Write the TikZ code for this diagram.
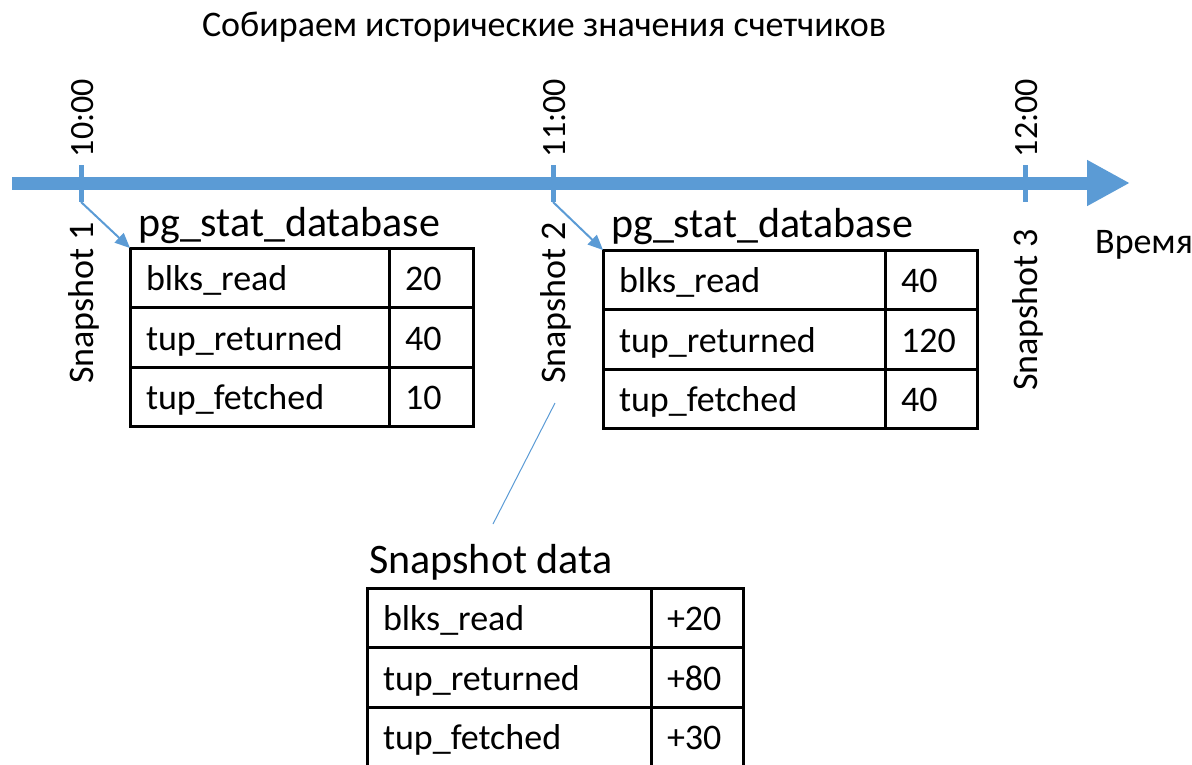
\documentclass[tikz,border=0pt]{standalone}
\usepackage{fontspec}
\setmainfont{Carlito}
\usetikzlibrary{positioning,arrows.meta}
\definecolor{axisblue}{HTML}{5B9BD5}
\newcommand{\cellfont}{\fontsize{36}{43}\selectfont}
\newcommand{\headfont}{\fontsize{42}{50}\selectfont}
\newcommand{\timefont}{\fontsize{34}{41}\selectfont}
\newcommand{\snapfont}{\fontsize{36}{43}\selectfont}
\newcommand{\titlefont}{\fontsize{36}{43}\selectfont}
\begin{document}
\begin{tikzpicture}
	[x=1pt,y=1pt,%
	  cell/.style={draw,line width=3pt,outer sep=0pt,inner xsep=16pt,inner ysep=0pt,
	    minimum height=59.5pt,text height=30pt,text depth=4pt,align=left,
	    font=\cellfont,text width=#1},
	  heading/.style={anchor=base west,inner sep=0pt,font=\headfont},
	  axis/.style={axisblue,line width=13pt,-{Triangle[length=43pt,width=43pt]}},
	  tick/.style={axisblue,line width=5pt},
	  pointer/.style={axisblue,line width=2pt,-{Triangle[length=15pt,width=13pt]}},
	  callout/.style={axisblue,line width=1pt},
	  timelabel/.style={rotate=90,inner sep=0pt,font=\timefont},
	  snaplabel/.style={rotate=90,inner sep=0pt,font=\snapfont}]
	\useasboundingbox (0,0) rectangle (1192,-764);
	\node[anchor=base,font=\titlefont] (title) at (544,-36)
	  {Собираем исторические значения счетчиков};
	\coordinate (axstart) at (12,-183);
	\coordinate (axend) at (1130,-183);
	\draw[axis] (axstart) -- (axend);
	\node[anchor=base west,inner sep=0pt,font=\titlefont] (timeaxis) at (1095,-253) {Время};
	\foreach \x/\t/\n/\sy in {81/10:00/1/-303, 553/11:00/2/-303, 1025/12:00/3/-310} {
	  \coordinate (tick\n) at (\x,-165);
	  \coordinate (foot\n) at (\x,-202);
	  \draw[tick] (tick\n) -- (foot\n);
	  \node[timelabel] (time\n) at (\x+2,-118) {\t};
	  \node[snaplabel] (snap\n) at (\x+3,\sy) {Snapshot \n};
	}
	\node[cell=227pt,anchor=north west] (s1blks) at (130,-248) {blks\_read};
	\node[cell=52pt,right=0pt of s1blks] (s1blksv) {20};
	\node[cell=227pt,below=0pt of s1blks] (s1ret) {tup\_returned};
	\node[cell=52pt,right=0pt of s1ret] (s1retv) {40};
	\node[cell=227pt,below=0pt of s1ret] (s1fet) {tup\_fetched};
	\node[cell=52pt,right=0pt of s1fet] (s1fetv) {10};
	\node[heading] (s1head) at ([xshift=8pt,yshift=12pt]s1blks.north west) {pg\_stat\_database};
	\node[cell=250pt,anchor=north west] (s2blks) at (603,-250) {blks\_read};
	\node[cell=60pt,right=0pt of s2blks] (s2blksv) {40};
	\node[cell=250pt,below=0pt of s2blks] (s2ret) {tup\_returned};
	\node[cell=60pt,right=0pt of s2ret] (s2retv) {120};
	\node[cell=250pt,below=0pt of s2ret] (s2fet) {tup\_fetched};
	\node[cell=60pt,right=0pt of s2fet] (s2fetv) {40};
	\node[heading] (s2head) at ([xshift=8pt,yshift=13pt]s2blks.north west) {pg\_stat\_database};
	\node[cell=252pt,anchor=north west] (dblks) at (367,-588) {blks\_read};
	\node[cell=60pt,right=0pt of dblks] (dblksv) {+20};
	\node[cell=252pt,below=0pt of dblks] (dret) {tup\_returned};
	\node[cell=60pt,right=0pt of dret] (dretv) {+80};
	\node[cell=252pt,below=0pt of dret] (dfet) {tup\_fetched};
	\node[cell=60pt,right=0pt of dfet] (dfetv) {+30};
	\node[heading] (dhead) at ([xshift=2pt,yshift=15pt]dblks.north west) {Snapshot data};
	\draw[pointer] (foot1) -- (s1blks.north west);
	\draw[pointer] (foot2) -- (s2blks.north west);
	\coordinate (calltop) at (555,-403);
	\coordinate (callend) at (493,-524);
	\draw[callout] (calltop) -- (callend);
\end{tikzpicture}
\end{document}
